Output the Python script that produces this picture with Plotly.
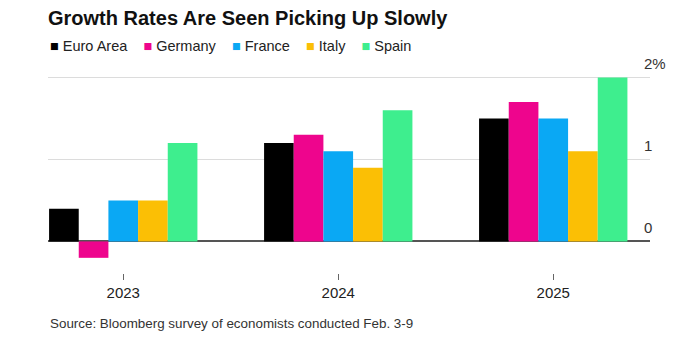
import plotly.graph_objects as go

years = ["2023", "2024", "2025"]
series_names = ["Euro Area", "Germany", "France", "Italy", "Spain"]
euro_area = [0.4, 1.2, 1.5]
germany = [-0.2, 1.3, 1.7]
france = [0.5, 1.1, 1.5]
italy = [0.5, 0.9, 1.1]
spain = [1.2, 1.6, 2.0]
colors = ["#000000", "#ee058d", "#0aa8f4", "#fbbf05", "#3eee8e"]
y_tick_vals = [0, 1, 2]
y_tick_text = ["0", "1", "2%"]
title_text = "Growth Rates Are Seen Picking Up Slowly"
source_text = "Source: Bloomberg survey of economists conducted Feb. 3-9"

values = [euro_area, germany, france, italy, spain]
FONT = "Liberation Sans, Arial, Helvetica, sans-serif"

fig = go.Figure()
for name, vals, col in zip(series_names, values, colors):
    fig.add_trace(go.Bar(x=years, y=vals, name=name, marker_color=col,
                         marker_line_width=0, showlegend=False))

# legend as a single text row
nb = "\u00a0"
parts = []
for name, col in zip(series_names, colors):
    parts.append(f"<span style='color:{col}'>\u25a0</span>{nb}{name}")
legend_html = (nb * 4).join(parts)

# plot area: top 75px, bottom 77px -> height 198px
PLOT_TOP, PLOT_BOTTOM, PLOT_H = 75, 273, 198
annotations = [
    dict(text=legend_html, x=0, xref="paper", y=1 + (PLOT_TOP - 46) / PLOT_H, yref="paper",
         xanchor="left", yanchor="middle", showarrow=False,
         font=dict(family=FONT, size=14.5, color="#222")),
    dict(text=source_text, x=0, xref="paper", y=-(323 - PLOT_BOTTOM) / PLOT_H, yref="paper",
         xanchor="left", yanchor="middle", showarrow=False,
         font=dict(family=FONT, size=13.4, color="#333")),
]
for v, t in zip(y_tick_vals, y_tick_text):
    annotations.append(dict(text=t, x=0.9867, xref="paper", y=v, yref="y",
                            xanchor="left", yanchor="bottom", yshift=3,
                            showarrow=False,
                            font=dict(family=FONT, size=15, color="#333")))

fig.update_layout(
    width=700, height=350,
    margin=dict(l=48, r=50, t=PLOT_TOP, b=350 - PLOT_BOTTOM),
    paper_bgcolor="white", plot_bgcolor="white",
    barmode="group", bargap=0.31, bargroupgap=0,
    title=dict(text=f"<b>{title_text}</b>", x=0, xref="paper", xanchor="left",
               y=1 - 18 / 350, yref="container", yanchor="middle",
               font=dict(family=FONT, size=20, color="#111")),
    xaxis=dict(range=[-0.35, 2.45], showgrid=False, showline=False,
               ticks="outside", ticklen=6, tickwidth=1, tickcolor="#666",
               tickfont=dict(family=FONT, size=15, color="#222"),
               zeroline=False),
    yaxis=dict(range=[-0.385, 2.03], tickvals=y_tick_vals, showticklabels=False,
               showgrid=True, gridcolor="#dcdcdc", gridwidth=1,
               zeroline=True, zerolinecolor="#555", zerolinewidth=1.5,
               showline=False),
    annotations=annotations,
)

fig.write_html("out.html")
